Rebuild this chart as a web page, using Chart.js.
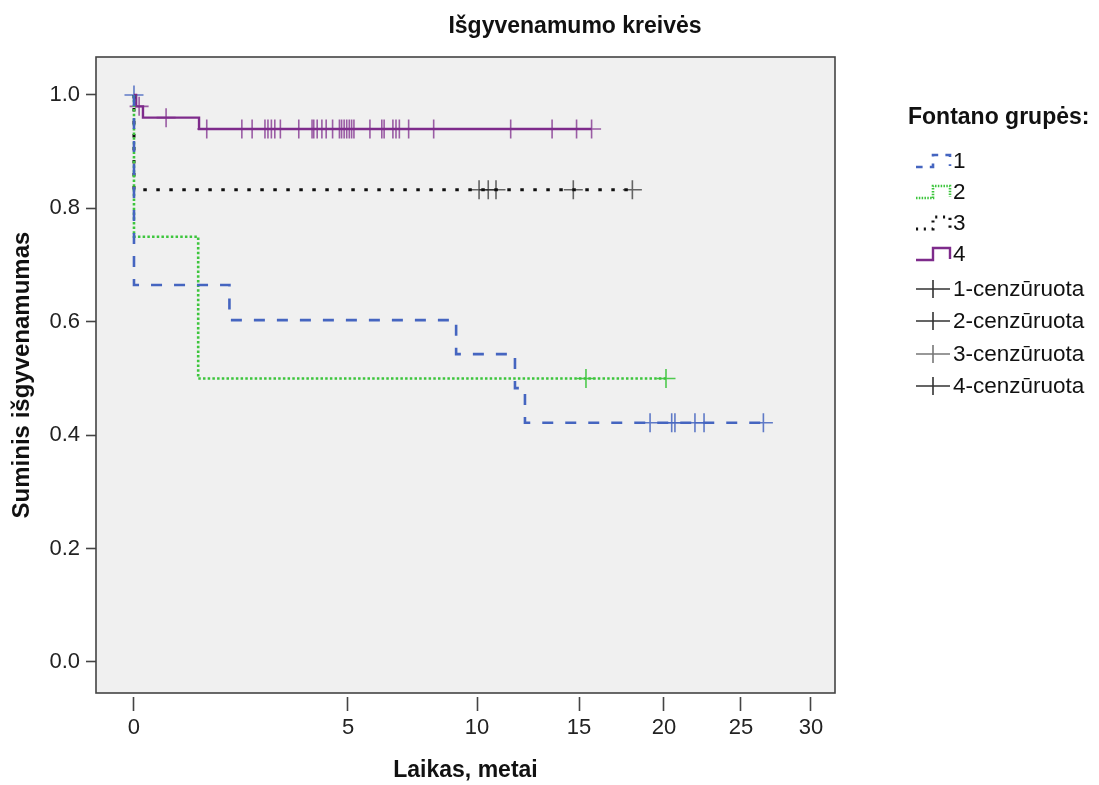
<!DOCTYPE html>
<html lang="lt">
<head>
<meta charset="utf-8">
<title>Išgyvenamumo kreivės</title>
<script src="https://cdn.jsdelivr.net/npm/chart.js@4.4.1/dist/chart.umd.min.js"></script>
<style>
  html, body { margin: 0; padding: 0; background: #fff; }
  #wrap { width: 1099px; height: 785px; }
</style>
</head>
<body>
<div id="wrap"><canvas id="kmChart" width="1099" height="785"></canvas></div>
<script>
// Kaplan-Meier kreivės – reikšmės nuskaitytos nuo paveikslo

const chartTitle = 'Išgyvenamumo kreivės';
const legendTitle = 'Fontano grupės:';
const groupNames = ['1', '2', '3', '4'];
const censorNames = ['1-cenzūruota', '2-cenzūruota', '3-cenzūruota', '4-cenzūruota'];

// įvykių laikai (metai) ir išgyvenamumas po įvykio
const g1Times = [0, 2.23, 9.19, 11.86, 12.35];
const g1Surv = [0.665, 0.603, 0.543, 0.483, 0.422];
const g1Censored = [0, 19.18, 20.5, 20.71, 22.01, 22.6, 26.6];

const g2Times = [0, 1.5];
const g2Surv = [0.75, 0.5];
const g2Censored = [15.41, 20.13];

const g3Times = [0];
const g3Surv = [0.833];
const g3Censored = [10.1, 10.55, 10.93, 14.72, 18.14];

const g4Times = [0.05, 0.21, 1.52];
const g4Surv = [0.98, 0.96, 0.94];
const g4Censored = [0.12, 0.75, 1.70, 2.52, 2.76, 3.06, 3.13, 3.21, 3.29, 3.42, 3.85,
  4.16, 4.20, 4.28, 4.39, 4.49, 4.64, 4.80, 4.85, 4.91, 4.97, 5.05, 5.14, 5.23, 5.85,
  6.31, 6.40, 6.74, 6.86, 6.99, 7.35, 8.32, 11.65, 13.68, 14.88, 15.74];

const xTicks = [0, 5, 10, 15, 20, 25, 30];
const yTicks = [0, 0.2, 0.4, 0.6, 0.8, 1.0];

// x ašis paveiksle netolygi – ašies taškai ir jų vieta (dalis ašies ilgio)
const xAxisValues = [-0.89, 0, 5, 10, 15, 20, 25, 30, 31.71];
const xAxisFractions = [0, 0.0514, 0.341, 0.5156, 0.6536, 0.7686, 0.8728, 0.9675, 1];

const FONT = '"Liberation Sans", Arial, sans-serif';

class WarpedScale extends Chart.LinearScale {
  getPixelForValue(value) {
    const av = xAxisValues, af = xAxisFractions;
    let i = 1;
    while (i < av.length - 1 && value > av[i]) i++;
    const t = (value - av[i - 1]) / (av[i] - av[i - 1]);
    return this.getPixelForDecimal(af[i - 1] + t * (af[i] - af[i - 1]));
  }
  getValueForPixel(pixel) {
    const d = this.getDecimalForPixel(pixel);
    const av = xAxisValues, af = xAxisFractions;
    let i = 1;
    while (i < af.length - 1 && d > af[i]) i++;
    const t = (d - af[i - 1]) / (af[i] - af[i - 1]);
    return av[i - 1] + t * (av[i] - av[i - 1]);
  }
}
WarpedScale.id = 'warped';
WarpedScale.defaults = Chart.LinearScale.defaults;
Chart.register(WarpedScale);

// laiptuota KM kreivė
function kmPoints(times, surv, censored) {
  const pts = [{ x: 0, y: 1 }];
  times.forEach((t, i) => pts.push({ x: t, y: surv[i] }));
  const end = Math.max(times[times.length - 1], ...censored);
  pts.push({ x: end, y: surv[surv.length - 1] });
  return pts;
}

// cenzūruoti taškai ant kreivės
function censorPoints(times, surv, censored) {
  return censored.map(c => {
    let s = 1;
    times.forEach((t, i) => { if (t < c) s = surv[i]; });
    return { x: c, y: s };
  });
}

const groups = [
  { times: g1Times, surv: g1Surv, cens: g1Censored, color: '#4565c0', dash: [11, 12], width: 2.6, mark: 'rgba(69,101,192,0.85)' },
  { times: g2Times, surv: g2Surv, cens: g2Censored, color: '#3dc53d', dash: [2.5, 2.2], width: 2.6, mark: 'rgba(61,197,61,0.9)' },
  { times: g3Times, surv: g3Surv, cens: g3Censored, color: '#111111', dash: [3.5, 9.5], width: 3, mark: 'rgba(40,40,40,0.7)' },
  { times: g4Times, surv: g4Surv, cens: g4Censored, color: '#7e2b8b', dash: [], width: 2.4, mark: 'rgba(126,43,139,0.75)' }
];

const datasets = [];
groups.forEach((g, i) => {
  datasets.push({
    label: groupNames[i],
    data: kmPoints(g.times, g.surv, g.cens),
    borderColor: g.color,
    borderDash: g.dash,
    borderWidth: g.width,
    stepped: 'before',
    pointRadius: 0,
    fill: false
  });
});
groups.forEach((g, i) => {
  datasets.push({
    label: censorNames[i],
    data: censorPoints(g.times, g.surv, g.cens),
    showLine: false,
    pointStyle: 'cross',
    pointRadius: 9.5,
    pointBorderWidth: 1.6,
    pointBorderColor: g.mark,
    borderColor: g.mark
  });
});

// fonas, rėmas, antraštė ir legenda
const spssDecor = {
  id: 'spssDecor',
  beforeDatasetsDraw(chart) {
    const { ctx, chartArea: a } = chart;
    ctx.save();
    ctx.fillStyle = '#f0f0f0';
    ctx.fillRect(a.left, a.top, a.right - a.left, a.bottom - a.top);
    ctx.strokeStyle = '#444';
    ctx.lineWidth = 1.6;
    ctx.strokeRect(a.left, a.top, a.right - a.left, a.bottom - a.top);
    ctx.restore();
  },
  afterDraw(chart) {
    const ctx = chart.ctx;
    ctx.save();
    ctx.fillStyle = '#111';
    ctx.textBaseline = 'middle';
    ctx.textAlign = 'center';
    ctx.font = 'bold 23px ' + FONT;
    ctx.fillText(chartTitle, 575, 27);

    ctx.textAlign = 'left';
    ctx.fillText(legendTitle, 908, 118);

    const rows = [161, 192, 223, 254, 289, 321, 354, 386];
    const x0 = 916, x1 = 933, x2 = 950;
    ctx.font = '22.5px ' + FONT;
    groups.forEach((g, i) => {
      const cy = rows[i];
      ctx.save();
      ctx.strokeStyle = g.color;
      ctx.lineWidth = g.width;
      ctx.setLineDash(g.dash.length ? g.dash.map(v => v * 0.6) : []);
      ctx.beginPath();
      ctx.moveTo(x0, cy + 6);
      ctx.lineTo(x1, cy + 6);
      ctx.lineTo(x1, cy - 6);
      ctx.lineTo(x2, cy - 6);
      ctx.lineTo(x2, cy + 5);
      ctx.stroke();
      ctx.restore();
      ctx.fillText(groupNames[i], 953, cy + 1);
    });
    censorNames.forEach((name, i) => {
      const cy = rows[4 + i];
      ctx.save();
      ctx.strokeStyle = i === 2 ? '#777' : '#333';
      ctx.lineWidth = 1.6;
      ctx.beginPath();
      ctx.moveTo(x0, cy);
      ctx.lineTo(x2, cy);
      ctx.moveTo(x1, cy - 9);
      ctx.lineTo(x1, cy + 9);
      ctx.stroke();
      ctx.restore();
      ctx.fillText(name, 953, cy + 1);
    });
    ctx.restore();
  }
};

new Chart(document.getElementById('kmChart').getContext('2d'), {
  type: 'line',
  data: { datasets },
  plugins: [spssDecor],
  options: {
    responsive: false,
    animation: false,
    layout: { padding: { top: 57, right: 264, left: 0, bottom: 0 } },
    plugins: {
      legend: { display: false },
      tooltip: { enabled: false },
      title: { display: false }
    },
    scales: {
      x: {
        type: 'warped',
        min: xAxisValues[0],
        max: xAxisValues[xAxisValues.length - 1],
        afterBuildTicks: s => { s.ticks = xTicks.map(v => ({ value: v })); },
        afterFit: s => { s.height = 92; },
        border: { display: false },
        grid: {
          drawOnChartArea: false,
          drawTicks: true,
          tickLength: 18,
          tickBorderDash: [0, 4, 14, 40],
          tickColor: '#444',
          tickWidth: 1.6
        },
        ticks: {
          autoSkip: false,
          maxRotation: 0,
          padding: 4,
          color: '#222',
          font: { family: FONT, size: 22 },
          callback: v => String(v)
        },
        title: {
          display: true,
          text: 'Laikas, metai',
          color: '#111',
          font: { family: FONT, size: 23, weight: 'bold' },
          padding: { top: 1, bottom: 1 }
        }
      },
      y: {
        type: 'linear',
        min: -0.0547,
        max: 1.067,
        afterBuildTicks: s => { s.ticks = yTicks.map(v => ({ value: v })); },
        afterFit: s => { s.width = 96; },
        border: { display: false },
        grid: {
          drawOnChartArea: false,
          drawTicks: true,
          tickLength: 10,
          tickColor: '#444',
          tickWidth: 1.6
        },
        ticks: {
          padding: 6,
          color: '#222',
          font: { family: FONT, size: 22 },
          callback: v => v.toFixed(1)
        },
        title: {
          display: true,
          text: 'Suminis išgyvenamumas',
          color: '#111',
          font: { family: FONT, size: 24, weight: 'bold' },
          padding: { top: 8, bottom: 0 }
        }
      }
    }
  }
});
</script>
</body>
</html>
